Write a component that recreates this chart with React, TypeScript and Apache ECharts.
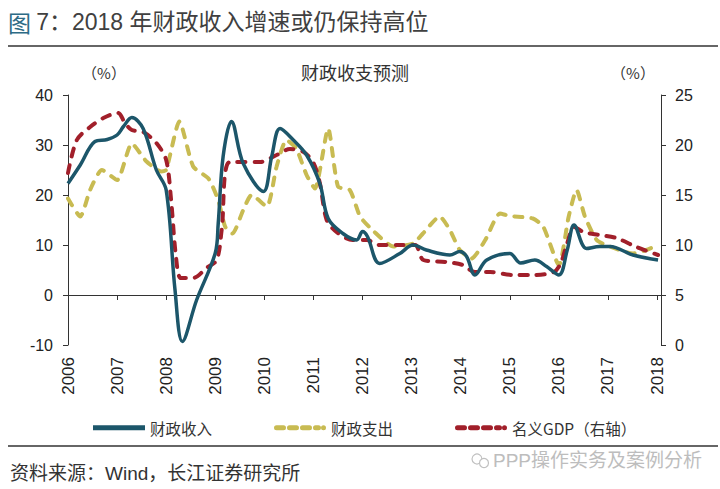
import React, { useEffect, useRef } from "react";
import * as echarts from "echarts";

// ---- data ----
const yearTicks = [2006, 2007, 2008, 2009, 2010, 2011, 2012, 2013, 2014, 2015, 2016, 2017, 2018];

const revenueDates = [
  2006.0, 2006.25, 2006.55, 2006.8, 2007.0, 2007.13, 2007.3, 2007.53, 2007.8, 2008.0,
  2008.18, 2008.33, 2008.62, 2009.0, 2009.06, 2009.16, 2009.33, 2009.57, 2009.98, 2010.15,
  2010.32, 2010.59, 2010.86, 2011.13, 2011.3, 2011.6, 2011.88, 2012.0, 2012.1, 2012.35,
  2012.76, 2013.03, 2013.3, 2013.78, 2013.98, 2014.12, 2014.29, 2014.53, 2015.0, 2015.22,
  2015.51, 2015.75, 2016.0, 2016.17, 2016.31, 2016.56, 2016.83, 2017.04, 2017.51, 2018.02,
];
const revenueValues = [
  22.3, 26, 30.7, 31.1, 32, 33.7, 35.5, 33.3, 25, 21,
  1, -9.3, -1, 8.4, 14.3, 27.7, 34.7, 26.3, 20.7, 27.7,
  33.3, 31, 28, 22.3, 15.3, 12.3, 11, 12.7, 11.7, 6.3,
  8.3, 10, 9, 8, 8.7, 7.7, 4, 7, 8.3, 6.4,
  7, 5.7, 4, 9, 14, 9.3, 9.7, 9.7, 8, 7,
];

const expenditureDates = [
  2006.0, 2006.25, 2006.45, 2006.69, 2007.0, 2007.3, 2007.6, 2007.9, 2008.0, 2008.27,
  2008.55, 2008.86, 2009.06, 2009.2, 2009.35, 2009.57, 2009.74, 2010.05, 2010.25, 2010.45,
  2010.65, 2010.86, 2011.03, 2011.3, 2011.5, 2011.74, 2011.95, 2012.2, 2012.63, 2013.03,
  2013.23, 2013.57, 2013.78, 2013.98, 2014.22, 2014.5, 2014.8, 2015.0, 2015.47, 2015.68,
  2016.0, 2016.2, 2016.36, 2016.53, 2016.77, 2017.04, 2017.51, 2017.78, 2018.02,
];
const expenditureValues = [
  19.3, 15.7, 21, 25, 23, 30.3, 26.7, 24.7, 25, 34.7,
  25.7, 23.3, 19, 13.7, 12.3, 17, 20, 17.7, 25.7, 31,
  29.3, 24, 21.3, 33.3, 21.7, 21, 15.7, 13, 9.7, 10.3,
  12.3, 15.7, 13, 9, 7.3, 11, 16.3, 15.8, 15.3, 13.7,
  6, 15.7, 21, 15.7, 11, 9.7, 8.3, 9, 10,
];

const gdpDates = [
  2006.0, 2006.18, 2006.45, 2006.72, 2007.02, 2007.16, 2007.3, 2007.53, 2007.8, 2008.0,
  2008.1, 2008.2, 2008.3, 2008.55, 2008.82, 2009.03, 2009.13, 2009.3, 2009.91, 2010.25,
  2010.52, 2010.8, 2011.0, 2011.13, 2011.27, 2011.47, 2011.8, 2012.08, 2012.35, 2012.76,
  2013.07, 2013.24, 2013.7, 2014.04, 2014.29, 2014.6, 2015.07, 2015.47, 2015.9, 2016.04,
  2016.17, 2016.31, 2016.5, 2016.83, 2017.17, 2017.58, 2018.02,
];
const gdpValues = [
  17.2, 20.5, 21.8, 22.7, 23.2, 22.2, 21.5, 21.3, 20.2, 18.5,
  14.5, 8.8, 6.7, 6.7, 7.7, 8.5, 11.5, 18.3, 18.3, 19,
  19.6, 19.3, 18.2, 16.2, 12.5, 11.3, 10.5, 10.5, 10, 10,
  10, 8.5, 8.3, 8, 7.3, 7.3, 7, 7, 7.3, 8.2,
  10.2, 11.8, 11.3, 11, 10.7, 9.8, 9,
];

const leftTicks = [-10, 0, 10, 20, 30, 40];
const rightTicks = [0, 5, 10, 15, 20, 25];

const seriesNames = ["财政收入", "财政支出", "名义GDP（右轴）"];

const zip = (xs: number[], ys: number[]) => xs.map((x, i) => [x, ys[i]]);

const NUM_FONT = "'Liberation Sans', Arial, 'Noto Sans CJK SC', sans-serif";
const CJK_FONT = "'Noto Sans CJK SC', 'Liberation Sans', sans-serif";

const SOLID_ICON = "path://M0,0H52V5H0Z";
const DASH_ICON =
  "path://M2.5,0H9.5A2.5,2.5 0 0 1 9.5,5H2.5A2.5,2.5 0 0 1 2.5,0Z" +
  "M15.5,0H22.5A2.5,2.5 0 0 1 22.5,5H15.5A2.5,2.5 0 0 1 15.5,0Z" +
  "M28.5,0H35.5A2.5,2.5 0 0 1 35.5,5H28.5A2.5,2.5 0 0 1 28.5,0Z" +
  "M41.5,0H44.5A2.5,2.5 0 0 1 44.5,5H41.5A2.5,2.5 0 0 1 41.5,0Z" +
  "M49.5,0A2.5,2.5 0 0 1 49.5,5A2.5,2.5 0 0 1 49.5,0Z";

export default function App() {
  const ref = useRef<HTMLDivElement>(null);

  useEffect(() => {
    if (!ref.current) return;
    const chart = echarts.init(ref.current, undefined, { renderer: "svg" });
    const axisColor = "#333";
    const labelColor = "#222";

    const option: any = {
      animation: false,
      backgroundColor: "#fff",
      grid: { left: 68, right: 59, top: 95, bottom: 144, containLabel: false },
      xAxis: [
        {
          type: "value",
          min: yearTicks[0],
          max: 2018.08,
          interval: 1,
          position: "bottom",
          axisLine: { show: true, onZero: true, onZeroAxisIndex: 0, lineStyle: { color: axisColor, width: 1 } },
          axisTick: { show: true, length: 5, inside: false, lineStyle: { color: axisColor } },
          axisLabel: { show: false },
          splitLine: { show: false },
        },
        {
          type: "value",
          min: yearTicks[0],
          max: 2018.08,
          interval: 1,
          position: "bottom",
          axisLine: { show: false, onZero: false },
          axisTick: { show: false },
          splitLine: { show: false },
          axisLabel: {
            show: true,
            rotate: 90,
            margin: 12,
            fontSize: 17,
            color: labelColor,
            fontFamily: NUM_FONT,
            showMaxLabel: false,
            formatter: (v: number) =>
              Math.abs(v - Math.round(v)) < 1e-6 && yearTicks.includes(Math.round(v)) ? String(Math.round(v)) : "",
          },
        },
      ],
      yAxis: [
        {
          type: "value",
          position: "left",
          min: leftTicks[0],
          max: leftTicks[leftTicks.length - 1],
          interval: 10,
          axisLine: { show: true, lineStyle: { color: axisColor, width: 1 } },
          axisTick: { show: true, length: 5, inside: false, lineStyle: { color: axisColor } },
          axisLabel: { margin: 15, fontSize: 16, color: labelColor, fontFamily: NUM_FONT },
          splitLine: { show: false },
        },
        {
          type: "value",
          position: "right",
          min: rightTicks[0],
          max: rightTicks[rightTicks.length - 1],
          interval: 5,
          axisLine: { show: true, lineStyle: { color: axisColor, width: 1 } },
          axisTick: { show: true, length: 5, inside: false, lineStyle: { color: axisColor } },
          axisLabel: { margin: 14, fontSize: 16, color: labelColor, fontFamily: NUM_FONT },
          splitLine: { show: false },
        },
      ],
      legend: {
        show: true,
        data: [
          { name: seriesNames[0], icon: SOLID_ICON },
          { name: seriesNames[1], icon: DASH_ICON },
          { name: seriesNames[2], icon: DASH_ICON },
        ],
        left: 88,
        top: 415,
        itemWidth: 52,
        itemHeight: 5,
        itemGap: 62,
        textStyle: { fontSize: 15.5, color: "#333", fontFamily: CJK_FONT },
      },
      series: [
        {
          name: seriesNames[1],
          type: "line",
          xAxisIndex: 0,
          yAxisIndex: 0,
          data: zip(expenditureDates, expenditureValues),
          smooth: 0.2,
          showSymbol: false,
          symbol: "none",
          lineStyle: { color: "#c8bb52", width: 4, type: [8, 9], cap: "round" },
          itemStyle: { color: "#c8bb52" },
          z: 2,
        },
        {
          name: seriesNames[2],
          type: "line",
          xAxisIndex: 0,
          yAxisIndex: 1,
          data: zip(gdpDates, gdpValues),
          smooth: 0.3,
          showSymbol: false,
          symbol: "none",
          lineStyle: { color: "#a11f2a", width: 4, type: [8, 9], cap: "round" },
          itemStyle: { color: "#a11f2a" },
          z: 3,
        },
        {
          name: seriesNames[0],
          type: "line",
          xAxisIndex: 0,
          yAxisIndex: 0,
          data: zip(revenueDates, revenueValues),
          smooth: 0.35,
          showSymbol: false,
          symbol: "none",
          lineStyle: { color: "#1c566a", width: 3.5 },
          itemStyle: { color: "#1c566a" },
          z: 4,
        },
      ],
      graphic: [
        {
          type: "text",
          left: 8,
          top: 10,
          style: {
            text: "{a|图} {b|7：2018 年财政收入增速或仍保持高位}",
            rich: {
              a: { fontSize: 23, fill: "#2d6b86", fontFamily: CJK_FONT },
              b: { fontSize: 23, fill: "#404040", fontFamily: NUM_FONT },
            },
            fontSize: 23,
            fontFamily: CJK_FONT,
          },
        },
        {
          type: "line",
          shape: { x1: 8, y1: 46, x2: 718, y2: 46 },
          style: { stroke: "#666", lineWidth: 2 },
        },
        {
          type: "text",
          x: 104,
          y: 72,
          style: {
            text: "（%）",
            fontSize: 15,
            fill: "#333",
            fontFamily: CJK_FONT,
            align: "center",
            verticalAlign: "middle",
          },
        },
        {
          type: "text",
          x: 355,
          y: 72,
          style: {
            text: "财政收支预测",
            fontSize: 18,
            fill: "#333",
            fontFamily: CJK_FONT,
            align: "center",
            verticalAlign: "middle",
          },
        },
        {
          type: "text",
          x: 633,
          y: 72,
          style: {
            text: "（%）",
            fontSize: 15,
            fill: "#333",
            fontFamily: CJK_FONT,
            align: "center",
            verticalAlign: "middle",
          },
        },
        {
          type: "line",
          shape: { x1: 8, y1: 446, x2: 718, y2: 446 },
          style: { stroke: "#666", lineWidth: 2 },
        },
        {
          type: "text",
          x: 10,
          y: 473,
          style: {
            text: "资料来源：Wind，长江证券研究所",
            fontSize: 19,
            fill: "#333",
            fontFamily: NUM_FONT,
            verticalAlign: "middle",
          },
        },
        {
          type: "circle",
          shape: { cx: 477, cy: 459, r: 5 },
          style: { fill: "none", stroke: "#c0c0c0", lineWidth: 1.2 },
        },
        {
          type: "circle",
          shape: { cx: 484, cy: 463, r: 4.5 },
          style: { fill: "#fff", stroke: "#c0c0c0", lineWidth: 1.2 },
        },
        {
          type: "text",
          x: 493,
          y: 460,
          style: {
            text: "PPP操作实务及案例分析",
            fontSize: 19,
            fill: "#bdbdbd",
            fontFamily: NUM_FONT,
            verticalAlign: "middle",
          },
        },
      ],
    };

    chart.setOption(option);
    return () => chart.dispose();
  }, []);

  return (
    <div
      ref={ref}
      style={{ position: "fixed", left: 0, top: 0, width: 720, height: 489, background: "#fff" }}
    />
  );
}
